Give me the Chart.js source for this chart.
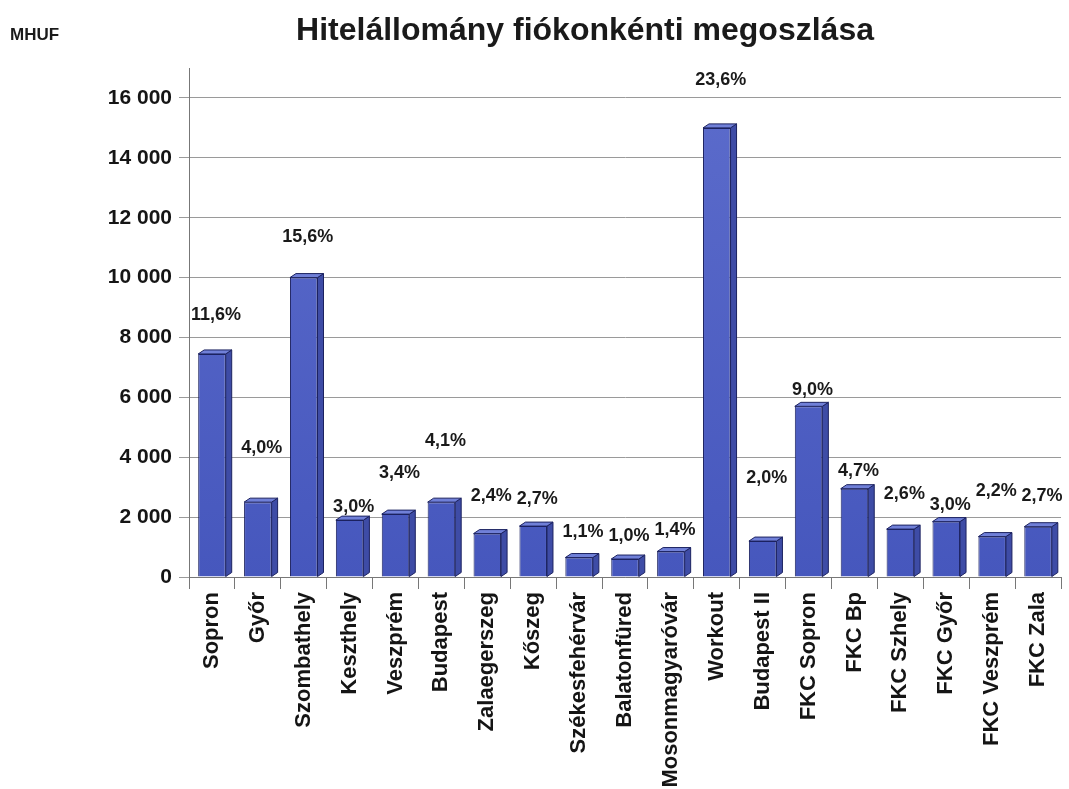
<!DOCTYPE html>
<html>
<head>
<meta charset="utf-8">
<script src="https://cdn.jsdelivr.net/npm/chart.js@4/dist/chart.umd.min.js"></script>
<style>
  html, body { margin: 0; padding: 0; background: #fff; overflow: hidden; }
  canvas { display: block; }
</style>
</head>
<body>
<canvas id="chart" width="1069" height="789"></canvas>
<script>
// DATA (MHUF)
const branches = ['Sopron', 'Győr', 'Szombathely', 'Keszthely', 'Veszprém', 'Budapest',
  'Zalaegerszeg', 'Kőszeg', 'Székesfehérvár', 'Balatonfüred', 'Mosonmagyaróvár', 'Workout',
  'Budapest II', 'FKC Sopron', 'FKC Bp', 'FKC Szhely', 'FKC Győr', 'FKC Veszprém', 'FKC Zala'];
const loanStock = [7450, 2500, 10000, 1900, 2100, 2500, 1450, 1700, 650, 600, 850, 15000,
  1200, 5700, 2950, 1600, 1850, 1350, 1680];
const shareLabels = ['11,6%', '4,0%', '15,6%', '3,0%', '3,4%', '4,1%', '2,4%', '2,7%', '1,1%',
  '1,0%', '1,4%', '23,6%', '2,0%', '9,0%', '4,7%', '2,6%', '3,0%', '2,2%', '2,7%'];
// height (in MHUF) at which each share label floats
const shareLabelLevel = [8750, 4300, 11350, 2330, 3480, 4530, 2720, 2600, 1490, 1360, 1580,
  16600, 3300, 6260, 3530, 2760, 2420, 2870, 2700];
const yTickValues = [0, 2000, 4000, 6000, 8000, 10000, 12000, 14000, 16000];

const FONT = "'Liberation Sans', Arial, sans-serif";
const DEPTH_X = 6, DEPTH_Y = -4;

function fmtThousands(v) {
  return String(v).replace(/\B(?=(\d{3})+(?!\d))/g, ' ');
}

// fake 3D side + top faces, drawn from the bar elements
const bar3d = {
  id: 'bar3d',
  afterDatasetsDraw(chart) {
    const c = chart.ctx;
    const meta = chart.getDatasetMeta(0);
    c.save();
    c.lineWidth = 1;
    c.strokeStyle = '#1c2260';
    meta.data.forEach(bar => {
      const l = bar.x - bar.width / 2, r = bar.x + bar.width / 2;
      const t = bar.y, b = bar.base;
      // side
      c.beginPath();
      c.moveTo(r, t);
      c.lineTo(r + DEPTH_X, t + DEPTH_Y);
      c.lineTo(r + DEPTH_X, b + DEPTH_Y);
      c.lineTo(r, b);
      c.closePath();
      c.fillStyle = '#3e4ca6';
      c.fill();
      c.stroke();
      // top
      c.beginPath();
      c.moveTo(l, t);
      c.lineTo(l + DEPTH_X, t + DEPTH_Y);
      c.lineTo(r + DEPTH_X, t + DEPTH_Y);
      c.lineTo(r, t);
      c.closePath();
      c.fillStyle = '#7080d8';
      c.fill();
      c.stroke();
    });
    c.restore();
  }
};

const shareText = {
  id: 'shareText',
  afterDraw(chart) {
    const c = chart.ctx;
    const meta = chart.getDatasetMeta(0);
    const y = chart.scales.y;
    c.save();
    c.fillStyle = '#1a1a1a';
    c.font = 'bold 18px ' + FONT;
    c.textAlign = 'center';
    c.textBaseline = 'middle';
    meta.data.forEach((bar, i) => {
      c.fillText(shareLabels[i], bar.x + 4, y.getPixelForValue(shareLabelLevel[i]));
    });
    // title and unit
    c.font = 'bold 32px ' + FONT;
    c.fillText('Hitelállomány fiókonkénti megoszlása', 585, 31);
    c.font = 'bold 17px ' + FONT;
    c.textAlign = 'left';
    c.fillText('MHUF', 10, 35);
    c.restore();
  }
};

const ctx = document.getElementById('chart').getContext('2d');
const frontFill = ctx.createLinearGradient(0, 577, 0, 100);
frontFill.addColorStop(0, '#4657bd');
frontFill.addColorStop(1, '#5b6bcb');

new Chart(ctx, {
  type: 'bar',
  data: {
    labels: branches,
    datasets: [{
      data: loanStock,
      backgroundColor: frontFill,
      borderColor: '#1c2260',
      borderWidth: 1,
      barPercentage: 0.6,
      categoryPercentage: 1
    }]
  },
  plugins: [bar3d, shareText],
  options: {
    responsive: false,
    animation: false,
    layout: { padding: { top: 68, right: 8, left: 0, bottom: 0 } },
    plugins: {
      legend: { display: false },
      tooltip: { enabled: false }
    },
    scales: {
      x: {
        grid: { display: true, drawOnChartArea: false, drawTicks: true, tickLength: 12, color: '#777' },
        border: { display: true, color: '#777' },
        ticks: {
          autoSkip: false, minRotation: 90, maxRotation: 90, padding: 3,
          color: '#151515', font: { family: FONT, size: 22, weight: 'bold' }
        },
        afterFit: s => { s.height = 212; }
      },
      y: {
        min: 0, max: 17000,
        afterBuildTicks: axis => { axis.ticks = yTickValues.map(v => ({ value: v })); },
        grid: { color: '#9a9a9a', tickLength: 10, drawTicks: true },
        border: { display: true, color: '#777' },
        ticks: {
          padding: 7, color: '#151515',
          font: { family: FONT, size: 21, weight: 'bold' },
          callback: v => fmtThousands(v)
        },
        afterFit: s => { s.width = 189; }
      }
    }
  }
});
</script>
</body>
</html>
